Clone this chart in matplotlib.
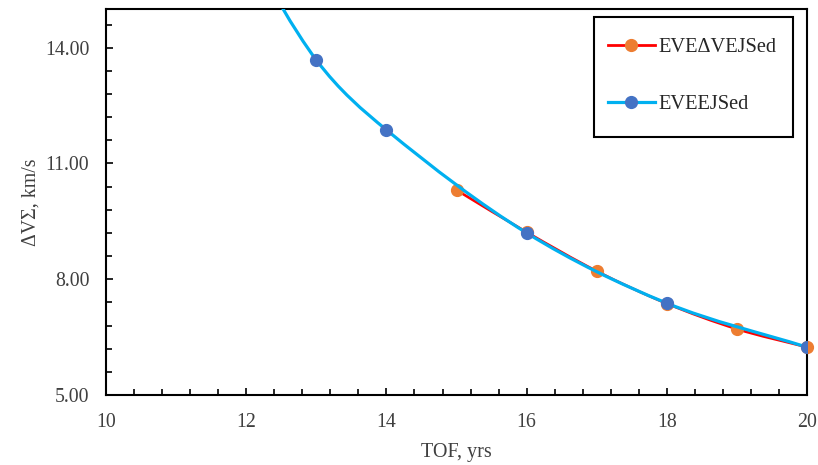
import numpy as np
import matplotlib.pyplot as plt
from matplotlib.path import Path
from matplotlib.patches import PathPatch, Rectangle
from matplotlib.lines import Line2D
from matplotlib.ticker import FixedLocator, MultipleLocator, FormatStrFormatter

plt.rcParams["font.family"] = ["Liberation Serif", "DejaVu Serif"]

# EVEΔVEJSed series
tof_red = [15, 16, 17, 18, 19, 20]
dv_red = [10.31, 9.22, 8.21, 7.37, 6.71, 6.24]

# EVEEJSed series (first points lie above the plot)
tof_blue = [11, 12, 13, 14, 16, 18, 20]
dv_blue = [20.3, 16.7, 13.68, 11.87, 9.20, 7.38, 6.24]

label_red = "EVEΔVEJSed"
label_blue = "EVEEJSed"

y_major = [5, 8, 11, 14]


def smooth_path(x, y):
    # smoothed line: cubic Hermite segments (as Bezier) through the points
    x = np.asarray(x, float)
    y = np.asarray(y, float)
    n = len(x)
    m = np.empty(n)
    m[0] = (y[1] - y[0]) / (x[1] - x[0])
    m[-1] = (y[-1] - y[-2]) / (x[-1] - x[-2])
    m[1:-1] = (y[2:] - y[:-2]) / (x[2:] - x[:-2])
    verts = [(x[0], y[0])]
    codes = [Path.MOVETO]
    for i in range(n - 1):
        h = (x[i + 1] - x[i]) / 3
        verts += [(x[i] + h, y[i] + m[i] * h), (x[i + 1] - h, y[i + 1] - m[i + 1] * h),
                  (x[i + 1], y[i + 1])]
        codes += [Path.CURVE4] * 3
    return Path(verts, codes)


fig = plt.figure(figsize=(8.18, 4.65), dpi=100)
ax = fig.add_axes([0.1296, 0.1505, 0.857, 0.830])

ax.add_patch(PathPatch(smooth_path(tof_red, dv_red), fc="none", ec="#FF0000", lw=1.9, zorder=2))
ax.plot(tof_red, dv_red, "o", color="#ED7D31", ms=8.5, zorder=3, clip_on=False)
ax.add_patch(PathPatch(smooth_path(tof_blue, dv_blue), fc="none", ec="#00B0F0", lw=2.3, zorder=4))
ax.plot(tof_blue, dv_blue, "o", color="#4472C4", ms=8.5, zorder=5)

ax.set_xlim(10, 20)
ax.set_ylim(5, 15)
ax.xaxis.set_major_locator(MultipleLocator(2))
ax.xaxis.set_minor_locator(MultipleLocator(0.4))
ax.yaxis.set_major_locator(FixedLocator(y_major))
ax.yaxis.set_minor_locator(FixedLocator(np.arange(5, 15.01, 0.6)))
ax.yaxis.set_major_formatter(FormatStrFormatter("%.2f"))
ax.tick_params(which="both", direction="in", width=1.2, colors="black", labelsize=14.3)
ax.tick_params(which="major", length=5)
ax.tick_params(which="minor", length=4)
ax.tick_params(axis="y", pad=12)
ax.tick_params(axis="x", pad=13)
ax.tick_params(axis="both", labelcolor="#404040")
for s in ax.spines.values():
    s.set_linewidth(1.5)
    s.set_color("black")

ax.set_xlabel("TOF, yrs", fontsize=14.5, color="#404040", labelpad=8)
ax.set_ylabel("ΔVΣ, km/s", fontsize=14.3, color="#404040", labelpad=3)

handles = [
    Line2D([], [], color="#FF0000", lw=2, marker="o", ms=8.5, mfc="#ED7D31", mec="#ED7D31"),
    Line2D([], [], color="#00B0F0", lw=2.3, marker="o", ms=8.5, mfc="#4472C4", mec="#4472C4"),
]
leg = ax.legend(handles, [label_red, label_blue], loc="upper left",
                bbox_to_anchor=(608 / 818, 1 - 38 / 465), bbox_transform=fig.transFigure,
                fontsize=14.7, frameon=False, handlelength=2.3,
                handletextpad=0.15, labelspacing=1.85, borderpad=0, borderaxespad=0)
for t in leg.get_texts():
    t.set_color("#262626")

# legend frame
fig.patches.append(Rectangle((594 / 818, 1 - 137 / 465), 199 / 818, 120 / 465,
                             transform=fig.transFigure, fill=False, ec="black", lw=1.5, zorder=6))

fig.savefig("out.png", dpi=100)
